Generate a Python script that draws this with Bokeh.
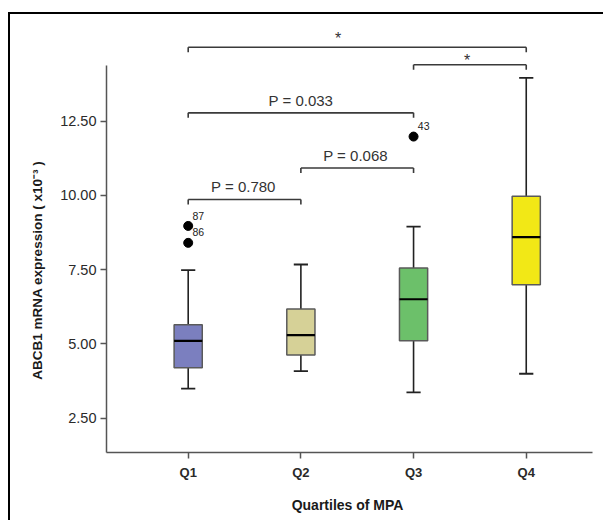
from bokeh.plotting import figure
from bokeh.models import Range1d, FixedTicker, NumeralTickFormatter, ColumnDataSource, InlineStyleSheet
from bokeh.core.properties import value
from bokeh.embed import file_html
from bokeh.resources import INLINE

# ---- data ----
categories = ["Q1", "Q2", "Q3", "Q4"]
xpos = [1, 2, 3, 4]
q1 = [4.19, 4.62, 5.10, 6.99]
median = [5.10, 5.29, 6.50, 8.59]
q3 = [5.64, 6.17, 7.55, 9.97]
whisker_low = [3.49, 4.08, 3.36, 3.99]
whisker_high = [7.48, 7.67, 8.95, 13.96]
box_colors = ["#7b7fbf", "#d6d197", "#6cc06a", "#f2e816"]

outlier_x = [1, 1, 3]
outlier_y = [8.97, 8.40, 11.98]
outlier_ids = ["87", "86", "43"]
outlier_label_y = [9.32, 8.78, 12.32]

# significance brackets: from group, to group, level, label, label x, label y
br_from = [1, 1, 2, 1, 3]
br_to = [2, 3, 3, 4, 4]
br_level = [9.86, 12.78, 10.92, 14.99, 14.40]
br_label = ["P = 0.780", "P = 0.033", "P = 0.068", "*", "*"]
br_label_x = [1.49, 2.00, 2.485, 2.33, 3.475]
br_label_y = [10.31, 13.20, 11.34, 15.27, 14.55]
br_label_size = ["15px", "15px", "15px", "16px", "16px"]

ytick_vals = [2.5, 5.0, 7.5, 10.0, 12.5]

FONT = "Liberation Sans"

p = figure(width=603, height=520, output_backend="svg", toolbar_location=None,
           x_range=Range1d(0.275, 4.588), y_range=Range1d(1.338, 15.89),
           min_border_left=106, min_border_right=11, min_border_top=20, min_border_bottom=68)
p.outline_line_color = None
p.xgrid.grid_line_color = None
p.ygrid.grid_line_color = None
p.background_fill_color = "white"
p.border_fill_color = "white"

# black picture frame of the original figure (left and top edges visible)
p.stylesheets = [InlineStyleSheet(css="""
:host::after {
  content: "";
  position: absolute;
  left: 8px; top: 12px; right: 0; bottom: 0;
  border-left: 2.7px solid black;
  border-top: 2.5px solid black;
  pointer-events: none;
}
""")]

# axes
p.xaxis.ticker = FixedTicker(ticks=xpos)
p.xaxis.major_label_overrides = {x: c for x, c in zip(xpos, categories)}
p.xaxis.minor_tick_line_color = None
p.xaxis.axis_label = "Quartiles of  MPA"
p.yaxis.ticker = FixedTicker(ticks=ytick_vals)
p.yaxis.formatter = NumeralTickFormatter(format="0.00")
p.yaxis.minor_tick_line_color = None
p.yaxis.bounds = (1.338, 14.38)
# trailing no-break spaces move the centred title down, as in the original
p.yaxis.axis_label = "ABCB1 mRNA expression ( x10\u207b\u00b3 )" + "\u00a0" * 18

for ax in (p.xaxis[0], p.yaxis[0]):
    ax.axis_line_color = "#555555"
    ax.axis_line_width = 1.5
    ax.major_tick_line_color = "#555555"
    ax.major_tick_line_width = 1.5
    ax.major_tick_out = 6
    ax.major_tick_in = 0
    ax.major_label_text_font = FONT
    ax.major_label_text_color = "#2a2a2a"
    ax.axis_label_text_font = FONT
    ax.axis_label_text_font_style = "bold"
    ax.axis_label_text_color = "#1a1a1a"

p.xaxis.major_label_text_font_size = "13px"
p.xaxis.major_label_text_font_style = "bold"
p.xaxis.major_label_standoff = 6
p.xaxis.axis_label_text_font_size = "14px"
p.xaxis.axis_label_standoff = 14
p.yaxis.major_label_text_font_size = "14.5px"
p.yaxis.major_label_standoff = 4
p.yaxis.axis_label_text_font_size = "13.5px"
p.yaxis.axis_label_standoff = 12

src = ColumnDataSource(dict(x=xpos, q1=q1, med=median, q3=q3, lo=whisker_low,
                            hi=whisker_high, color=box_colors))

# whiskers
p.segment(x0="x", y0="q3", x1="x", y1="hi", source=src, line_color="#222222", line_width=1.6)
p.segment(x0="x", y0="q1", x1="x", y1="lo", source=src, line_color="#222222", line_width=1.6)
cap = 0.063
src_caps = ColumnDataSource(dict(x0=[x - cap for x in xpos], x1=[x + cap for x in xpos],
                                 lo=whisker_low, hi=whisker_high))
p.segment(x0="x0", y0="hi", x1="x1", y1="hi", source=src_caps, line_color="#222222", line_width=1.8)
p.segment(x0="x0", y0="lo", x1="x1", y1="lo", source=src_caps, line_color="#222222", line_width=1.8)

# boxes
p.vbar(x="x", width=0.25, bottom="q1", top="q3", source=src, fill_color="color",
       line_color="#5a5a5a", line_width=1.5)
bw = 0.125
src_med = ColumnDataSource(dict(x0=[x - bw for x in xpos], x1=[x + bw for x in xpos], y=median))
p.segment(x0="x0", y0="y", x1="x1", y1="y", source=src_med, line_color="black", line_width=2.2)

# outliers
p.scatter(outlier_x, outlier_y, size=9, color="black")
p.text([x + 0.038 for x in outlier_x], outlier_label_y, text=outlier_ids,
       text_font=value(FONT), text_font_size="10.5px", text_align="left",
       text_baseline="middle", text_color="#222222")

# significance brackets
tick = 0.17
bx0, by0, bx1, by1 = [], [], [], []
for a, b, lv in zip(br_from, br_to, br_level):
    bx0 += [a, a, b]
    by0 += [lv, lv - tick, lv - tick]
    bx1 += [b, a, b]
    by1 += [lv, lv, lv]
p.segment(bx0, by0, bx1, by1, line_color="#3a3a3a", line_width=1.6)
lab_src = ColumnDataSource(dict(x=br_label_x, y=br_label_y, t=br_label, fs=br_label_size))
p.text("x", "y", text="t", source=lab_src, text_font=value(FONT),
       text_font_size="fs", text_align="center", text_baseline="middle",
       text_color="#333333")

open("out.html", "w").write(file_html(p, INLINE))
